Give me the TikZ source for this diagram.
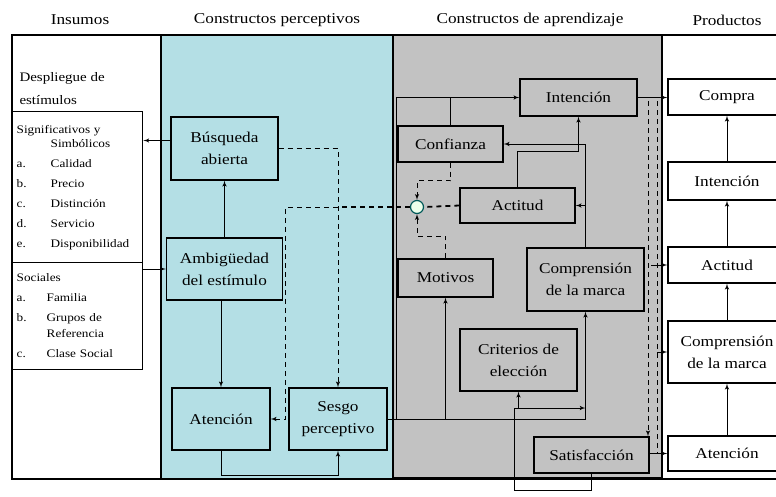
\documentclass[tikz,border=0pt]{standalone}
\usepackage{fontspec}
\setmainfont{Liberation Serif}[FakeStretch=1.15]
\usetikzlibrary{shapes, arrows}

\definecolor{fondoper}{RGB}{180,223,229}
\definecolor{fondoapr}{RGB}{194,194,194}

\tikzstyle{titulo} = [font=\fontsize{15}{18}\selectfont]
\tikzstyle{bloque} = [rectangle, draw=black, line width=1.4pt, text centered, align=center, inner sep=2pt, font=\fontsize{15}{22}\selectfont]
\tikzstyle{lista} = [rectangle, draw=black, line width=1.4pt, inner sep=4pt, text width=122pt, align=left, anchor=north west, font=\fontsize{11.5}{14}\selectfont]
\tikzstyle{union} = [circle, draw=teal!70!black, fill=green!8, line width=1.2pt, minimum size=13pt, inner sep=0pt]
\tikzstyle{line} = [draw, line width=1pt, -latex']
\tikzstyle{dline} = [draw, line width=1pt, dash pattern=on 5pt off 4pt, -latex']

\begin{document}
\begin{tikzpicture}[x=1pt, y=-1pt, node distance=84pt]
            \useasboundingbox (0,0) rectangle (776,496);
            \clip (0,0) rectangle (776,496);

            % Columns
            \fill[fondoper] (161,35) rectangle (393,478);
            \fill[fondoapr] (393,35) rectangle (662,478);
            \draw[line width=1.4pt] (12,35) rectangle (800,479);
            \draw[line width=1.4pt] (161,35) -- (161,479);
            \draw[line width=2.6pt] (393,35) rectangle (662,478);

            % Titles
            \node (tit_1) [titulo] at (80,20) {Insumos};
            \node (tit_2) [titulo] at (277,20) {Constructos perceptivos};
            \node (tit_3) [titulo] at (530,20) {Constructos de aprendizaje};
            \node (tit_4) [titulo] at (727,20) {Productos};

            % Inputs
            \node (desp) [anchor=west, align=left, font=\fontsize{13}{23}\selectfont] at (16,88.5) {Despliegue de\\estímulos};
            \node (insumo_1) [lista, minimum height=151pt] at (12,111) {%
              \begin{tabular}{@{}p{34pt}@{}l@{}}
                \multicolumn{2}{@{}l@{}}{Significativos y}\\
                & Simbólicos\\[6pt]
                a. & Calidad\\[6pt]
                b. & Precio\\[6pt]
                c. & Distinción\\[6pt]
                d. & Servicio\\[6pt]
                e. & Disponibilidad
              \end{tabular}};
            \node (insumo_2) [lista, minimum height=107pt] at (12,262) {%
              \begin{tabular}{@{}p{30pt}@{}l@{}}
                \multicolumn{2}{@{}l@{}}{Sociales}\\[6pt]
                a. & Familia\\[6pt]
                b. & Grupos de\\[2pt]
                & Referencia\\[6pt]
                c. & Clase Social
              \end{tabular}};

            % Perceptual constructs
            \node (per_1) [bloque, minimum width=107pt, minimum height=63pt] at (224.5,148.5) {Búsqueda\\abierta};
            \node (per_2) [bloque, minimum width=116pt, minimum height=62pt, below of=per_1, yshift=-36.5pt] {Ambigüedad\\del estímulo};
            \node (per_3) [bloque, minimum width=98pt, minimum height=62pt, below of=per_2, xshift=-3.5pt, yshift=-66pt] {Atención};
            \node (per_4) [bloque, minimum width=98pt, minimum height=62pt, right of=per_3, xshift=33pt] {Sesgo\\perceptivo};

            % Learning constructs
            \node (apr_1) [bloque, minimum width=117pt, minimum height=37pt] at (578.5,97.5) {Intención};
            \node (apr_2) [bloque, minimum width=105pt, minimum height=36pt, below of=apr_1, xshift=-128pt, yshift=37.5pt] {Confianza};
            \node (apr_3) [bloque, minimum width=115pt, minimum height=35pt, below of=apr_2, xshift=67pt, yshift=22.5pt] {Actitud};
            \node (apr_4) [bloque, minimum width=95pt, minimum height=38pt, below of=apr_3, xshift=-72pt, yshift=11.5pt] {Motivos};
            \node (apr_5) [bloque, minimum width=117pt, minimum height=63pt, right of=apr_4, xshift=56pt, yshift=-1.5pt] {Comprensión\\de la marca};
            \node (apr_6) [bloque, minimum width=117pt, minimum height=62pt, below of=apr_5, xshift=-67pt, yshift=3.5pt] {Criterios de\\elección};
            \node (apr_7) [bloque, minimum width=115pt, minimum height=36pt, below of=apr_6, xshift=73pt, yshift=-11pt] {Satisfacción};
            \node (jun) [union] at (417,207) {};

            % Outputs
            \node (prod_1) [bloque, fill=white, minimum width=118pt, minimum height=36pt] at (727,97) {Compra};
            \node (prod_2) [bloque, fill=white, minimum width=118pt, minimum height=38pt, below of=prod_1] {Intención};
            \node (prod_3) [bloque, fill=white, minimum width=118pt, minimum height=36pt, below of=prod_2] {Actitud};
            \node (prod_4) [bloque, fill=white, minimum width=118pt, minimum height=62pt, below of=prod_3, yshift=-3pt] {Comprensión\\de la marca};
            \node (prod_5) [bloque, fill=white, minimum width=118pt, minimum height=35pt, below of=prod_4, yshift=-17.5pt] {Atención};

            \coordinate (fb_1) at (514,490);
            \coordinate (fb_2) at (514,408);
            \coordinate (ret_a) at (648,101);
            \coordinate (ret_b) at (657,101);

            % Draw lines
            % Perceptual
            \path [line] ([yshift=8pt]per_1.west) -- ([yshift=8pt]per_1.west -| insumo_1.east);
            \path [line] (per_2.west -| insumo_2.east) -- (per_2.west);
            \path [line] (per_2.north) -- (per_1.south);
            \path [line] (per_3.north |- per_2.south) -- (per_3.north);
            \path [line] (per_3.south) -- ++(0,25) -| (per_4.south);
            \path [dline] (per_1.east) -| (per_4.north);
            \path [dline] (jun.west) -| ([xshift=15pt]per_3.east) -- (per_3.east);
            \path [draw, line width=1.8pt, dash pattern=on 5pt off 4pt] (jun.west) -- (jun.west -| per_4.north);

            % Learning
            \path [line] (per_4.east) -| (apr_5.south);
            \path [line] ([xshift=-1pt]apr_2.west |- per_4.east) |- (apr_1.west);
            \path [draw, line width=1pt] (apr_2.north |- apr_1.west) -- (apr_2.north);
            \path [line] (apr_4.south |- per_4.east) -- (apr_4.south);
            \path [line] (apr_5.north) |- (apr_2.east);
            \path [line] (apr_5.north |- apr_3.east) -- (apr_3.east);
            \path [line] (apr_3.north) -- ++(0,-36) -| (apr_1.south);
            \path [line] (apr_7.south) |- (fb_1) -- (fb_2) -- (fb_2 -| apr_5.south);
            \path [line] (apr_6.south |- fb_2) -- (apr_6.south);
            \path [dline] (apr_2.south) -- ++(0,18) -| (jun.north);
            \path [dline] (apr_4.north) -- ++(0,-22) -| (jun.south);
            \path [draw, line width=1.8pt, dash pattern=on 5pt off 4pt] (apr_3.west) -- (jun.east);

            % Outputs
            \path [line] (apr_1.east) -- (apr_1.east -| prod_1.west);
            \path [line] (prod_5.north) -- (prod_4.south);
            \path [line] (prod_4.north) -- (prod_3.south);
            \path [line] (prod_3.north) -- (prod_2.south);
            \path [line] (prod_2.north) -- (prod_1.south);
            \path [dline] (ret_a) -- (ret_a |- apr_7.north);
            \path [draw, line width=1pt, dash pattern=on 5pt off 4pt] (ret_b) -- (ret_b |- prod_5.west);
            \path [line] ([xshift=-6pt]ret_b |- prod_3.west) -- (prod_3.west);
            \path [line] (ret_b |- prod_4.west) -- (prod_4.west);
            \path [line] (apr_7.east |- prod_5.west) -- (prod_5.west);
        \end{tikzpicture}
\end{document}
